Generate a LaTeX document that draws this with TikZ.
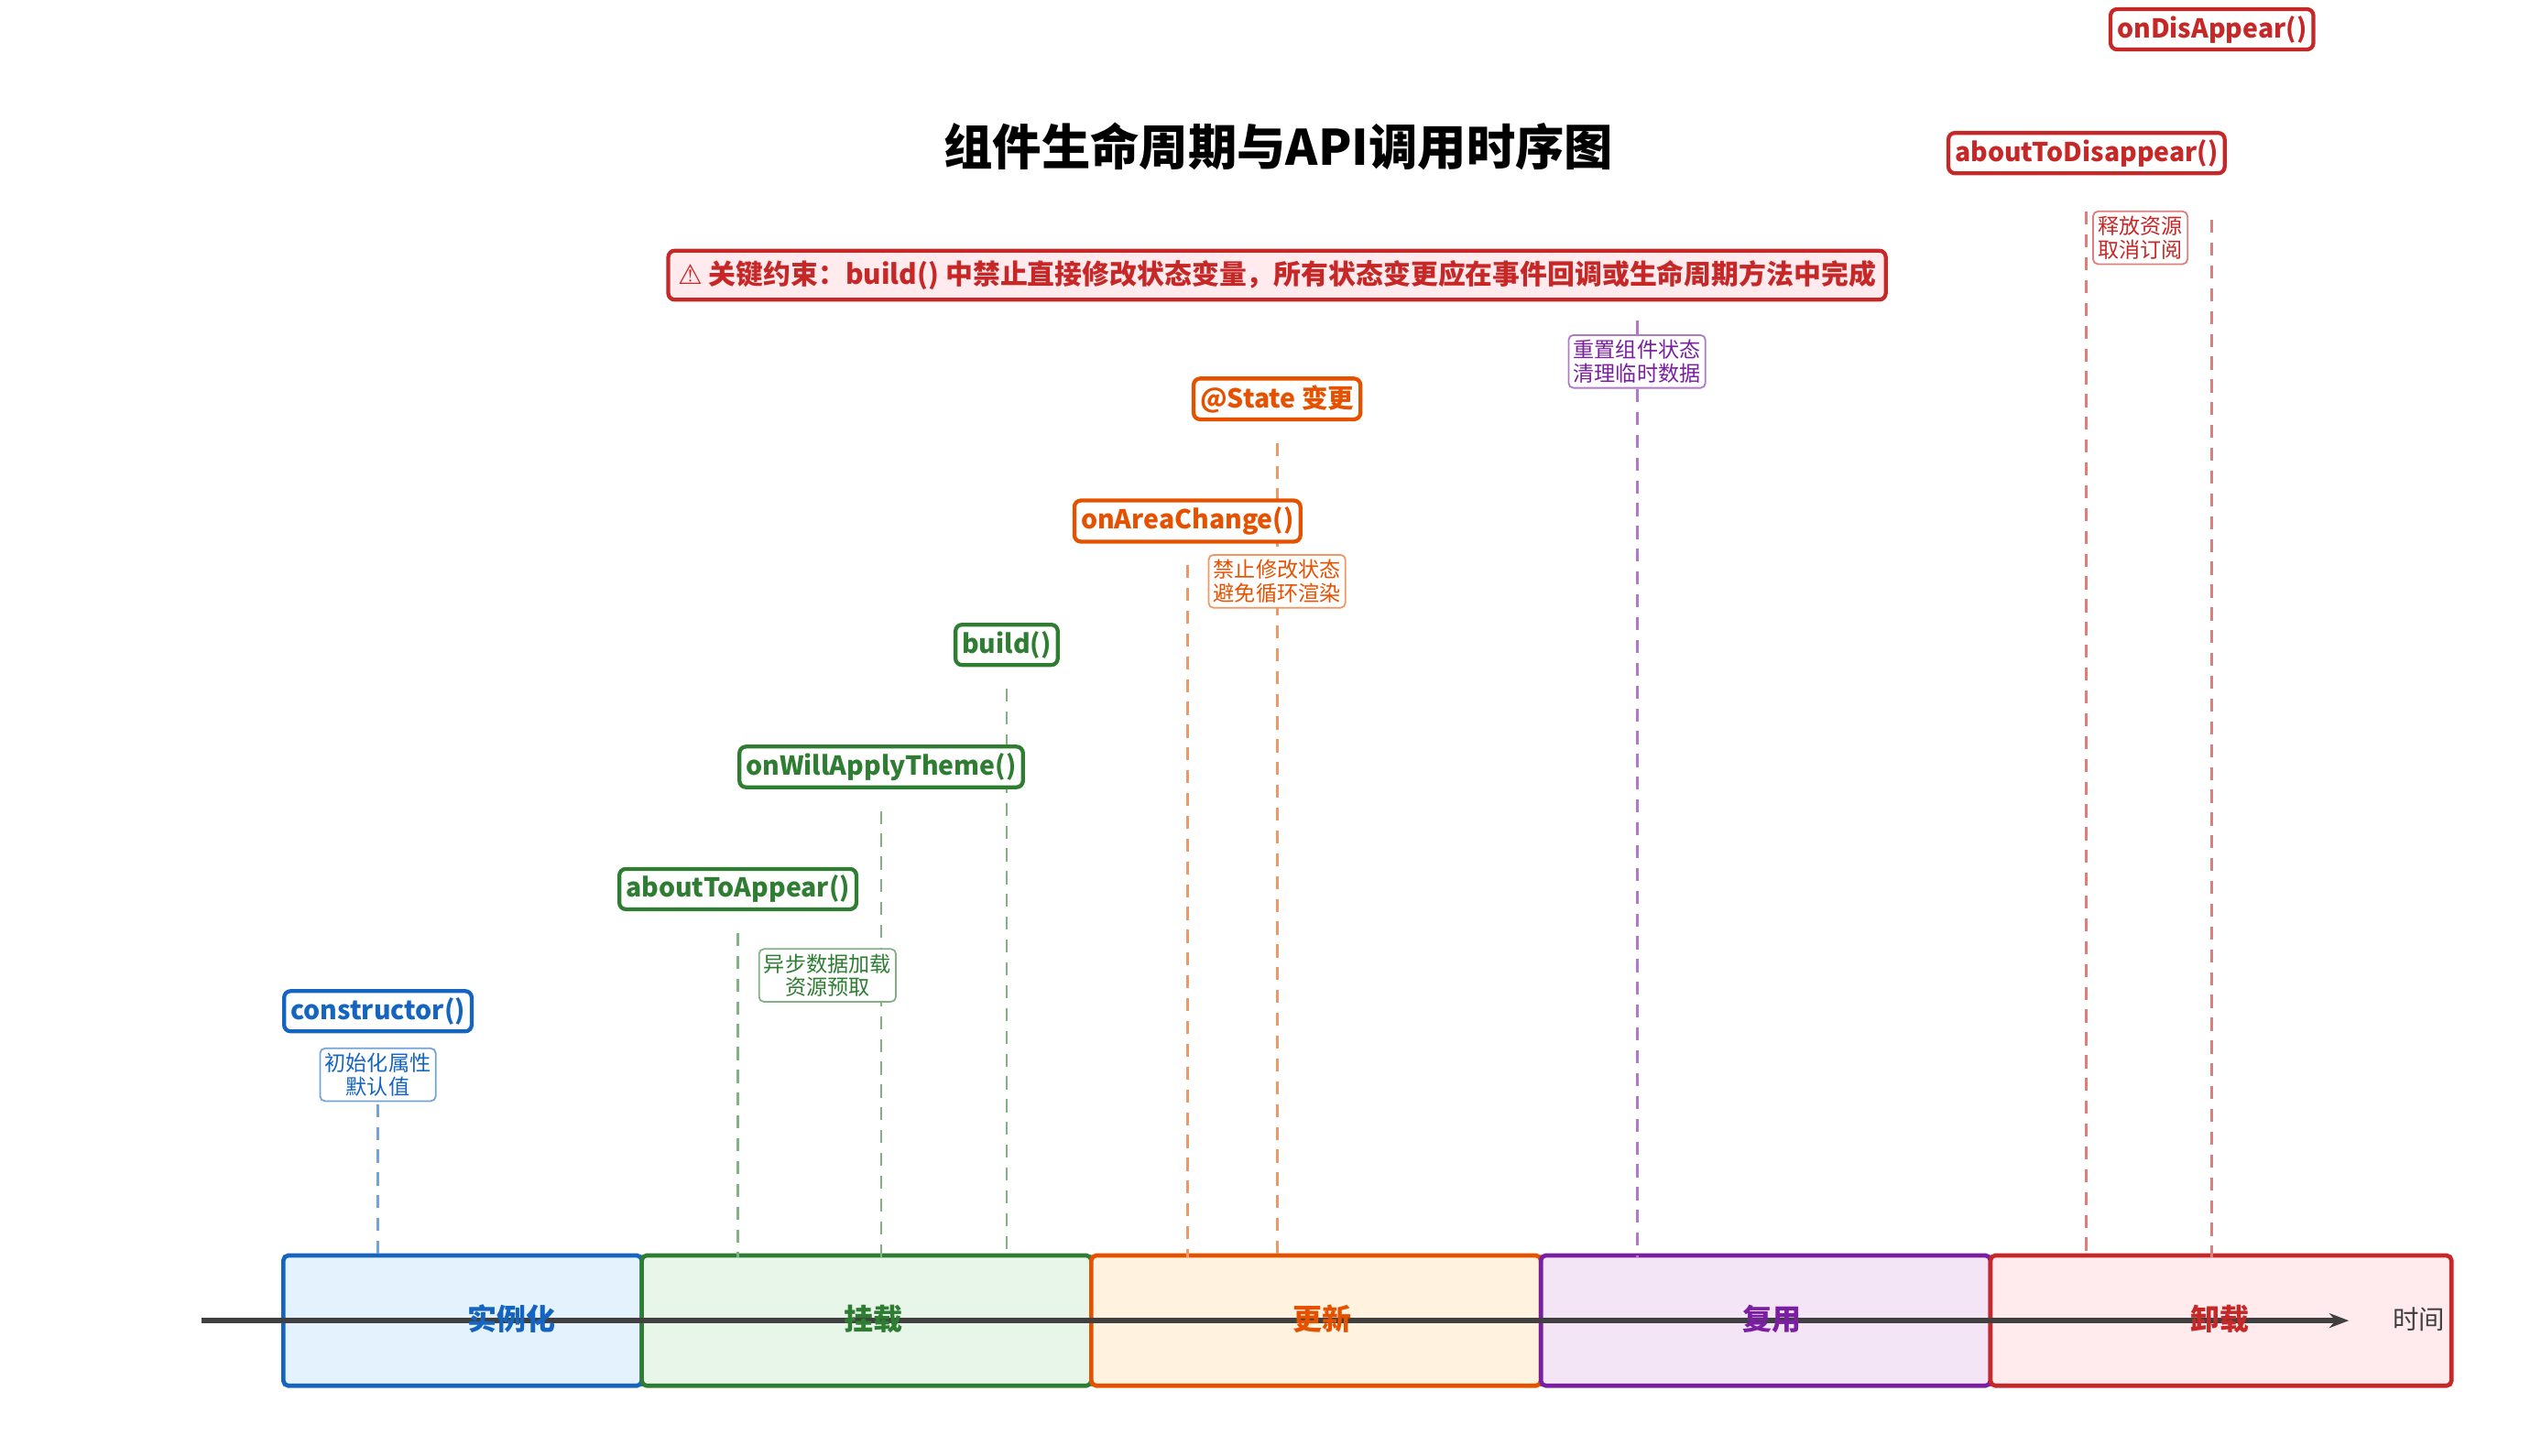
\documentclass[tikz,border=0pt]{standalone}
\usepackage{fontspec}
\setmainfont{Noto Sans CJK SC}
\newfontfamily\symfont{DejaVu Sans}
\usetikzlibrary{arrows.meta}
\definecolor{cBlue}{HTML}{1565C0}\definecolor{fBlue}{HTML}{E3F2FD}
\definecolor{cGreen}{HTML}{2E7D32}\definecolor{fGreen}{HTML}{E8F5E9}
\definecolor{cOrange}{HTML}{E65100}\definecolor{fOrange}{HTML}{FFF3E0}
\definecolor{cPurple}{HTML}{7B1FA2}\definecolor{fPurple}{HTML}{F3E5F5}
\definecolor{cRed}{HTML}{C62828}\definecolor{fRed}{HTML}{FFEBEE}
\begin{document}
\begin{tikzpicture}[x=0.5pt,y=-0.5pt,
            api/.style={draw=#1,text=#1,fill=white,line width=1.2pt,rounded corners=2pt,
                inner sep=2pt,font=\fontsize{8}{9}\selectfont\bfseries},
            note/.style={draw=#1!60,text=#1,fill=white,line width=0.5pt,rounded corners=1.5pt,
                inner sep=1.5pt,align=center,font=\fontsize{6.5}{7.2}\selectfont},
            phase/.style={draw=#1,line width=1.3pt,rounded corners=1.5pt},
            life/.style={dashed,#1!60,line width=0.8pt,dash pattern=on 4pt off 3pt}]
                \useasboundingbox (0,0) rectangle (1560,894);
                % phases
                \draw[phase=cBlue,fill=fBlue](174,771) rectangle (394,851);
                \draw[phase=cGreen,fill=fGreen](394,771) rectangle (670,851);
                \draw[phase=cOrange,fill=fOrange](670,771) rectangle (946,851);
                \draw[phase=cPurple,fill=fPurple](946,771) rectangle (1222,851);
                \draw[phase=cRed,fill=fRed](1222,771) rectangle (1505,851);
                \draw[-{Stealth[length=6pt]},line width=1.5pt,black!75](124,811)--(1442,811);
                \node[text=cBlue,font=\fontsize{9}{10}\selectfont\bfseries](pInst) at (314,810) {实例化};
                \node[text=cGreen,font=\fontsize{9}{10}\selectfont\bfseries](pMount) at (536,810) {挂载};
                \node[text=cOrange,font=\fontsize{9}{10}\selectfont\bfseries](pUpd) at (812,810) {更新};
                \node[text=cPurple,font=\fontsize{9}{10}\selectfont\bfseries](pReuse) at (1088,810) {复用};
                \node[text=cRed,font=\fontsize{9}{10}\selectfont\bfseries](pUnmount) at (1363,810) {卸载};
                \node[text=black!75,font=\fontsize{8}{9}\selectfont](tAxis) at (1485,810) {时间};

                % lifelines
                \foreach \x/\top/\c in {232/678/cBlue,453/573/cGreen,541/498/cGreen,618/423/cGreen,
                        729/347/cOrange,784/272/cOrange,1005/197/cPurple,1281/130/cRed,1358/135/cRed}
                    \draw[life=\c](\x,\top)--(\x,772);

                % title and constraint
                \node[font=\fontsize{15}{17}\selectfont\bfseries](title) at (785,90) {组件生命周期与API调用时序图};
                \node[draw=cRed,fill=fRed,text=cRed,line width=1.2pt,rounded corners=2pt,inner sep=3pt,
                    font=\fontsize{8.4}{9}\selectfont\bfseries](rule) at (784,169)
                    {{\symfont\mdseries ⚠} 关键约束：build() 中禁止直接修改状态变量，所有状态变更应在事件回调或生命周期方法中完成};

                % API calls
                \node[api=cBlue](nCtor) at (232,621) {constructor()};
                \node[api=cGreen](nAppear) at (453,546) {aboutToAppear()};
                \node[api=cGreen](nTheme) at (541,471) {onWillApplyTheme()};
                \node[api=cGreen](nBuild) at (618,396) {build()};
                \node[api=cOrange](nArea) at (729,320) {onAreaChange()};
                \node[api=cOrange](nState) at (784,245) {@State 变更};
                \node[api=cRed](nDisappear) at (1281,94) {aboutToDisappear()};
                \node[api=cRed](nDisAppear) at (1358,18) {onDisAppear()};

                % notes
                \node[note=cBlue](mCtor) at (232,660) {初始化属性\\默认值};
                \node[note=cGreen](mAppear) at (508,599) {异步数据加载\\资源预取};
                \node[note=cOrange](mArea) at (784,357) {禁止修改状态\\避免循环渲染};
                \node[note=cPurple](mReuse) at (1005,222) {重置组件状态\\清理临时数据};
                \node[note=cRed](mDisappear) at (1314,146) {释放资源\\取消订阅};
        \end{tikzpicture}
\end{document}
